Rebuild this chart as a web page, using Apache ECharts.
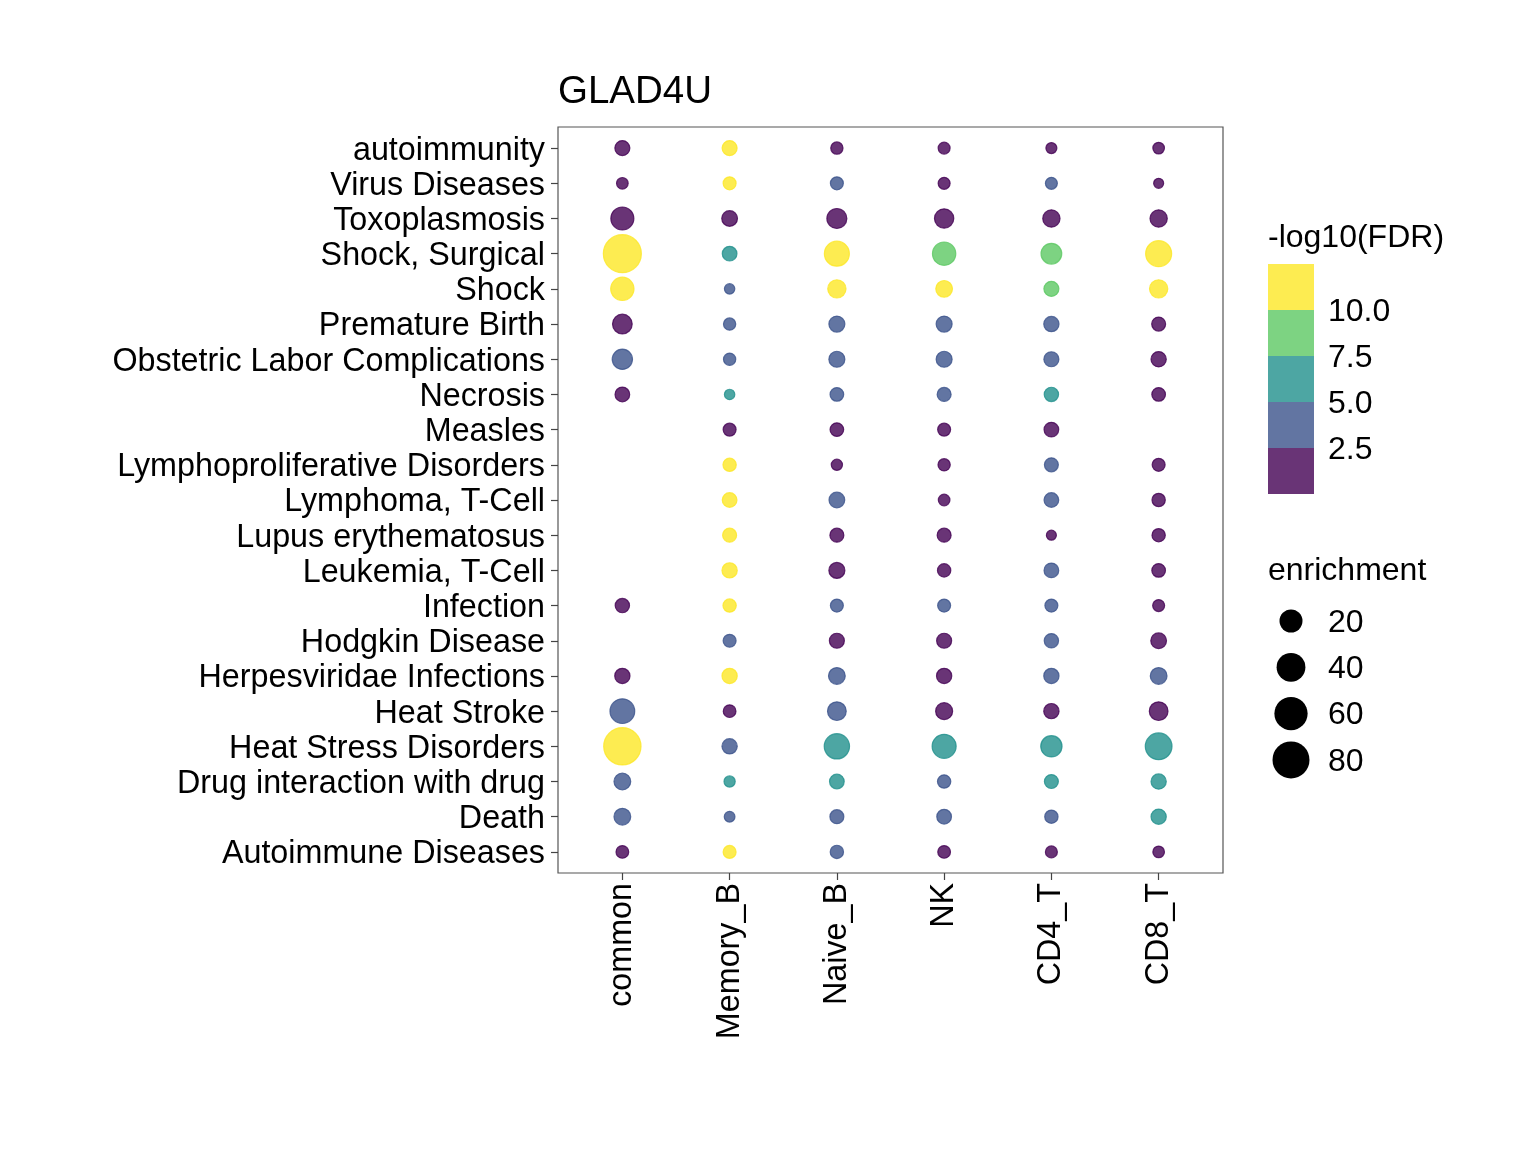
<!DOCTYPE html>
<html>
<head>
<meta charset="utf-8">
<script src="https://cdn.jsdelivr.net/npm/echarts@6/dist/echarts.min.js"></script>
<style>
  body { margin: 0; background: #fff; }
  #chart { width: 1536px; height: 1152px; }
</style>
</head>
<body>
<div id="chart"></div>
<script>
// rows listed top to bottom as they appear
const terms = [
  'autoimmunity', 'Virus Diseases', 'Toxoplasmosis', 'Shock, Surgical', 'Shock',
  'Premature Birth', 'Obstetric Labor Complications', 'Necrosis', 'Measles',
  'Lymphoproliferative Disorders', 'Lymphoma, T-Cell', 'Lupus erythematosus',
  'Leukemia, T-Cell', 'Infection', 'Hodgkin Disease', 'Herpesviridae Infections',
  'Heat Stroke', 'Heat Stress Disorders', 'Drug interaction with drug', 'Death',
  'Autoimmune Diseases'
]
const cellTypes = ['common', 'Memory_B', 'Naive_B', 'NK', 'CD4_T', 'CD8_T']

// enrichment per cell type (same order as terms), null = not present
const enrichCommon = [3.7, 0.7, 20.0, 85.8, 20.9, 11.7, 13.0, 3.3, null, null, null, null, null, 2.9, null, 4.0, 25.2, 81.7, 6.1, 6.1, 1.4]
const enrichMemoryB = [3.7, 1.6, 4.6, 3.3, 0.2, 1.1, 1.1, 0.2, 1.6, 1.9, 3.3, 2.5, 4.0, 1.9, 1.6, 4.0, 1.4, 4.0, 0.5, 0.3, 1.6]
const enrichNaiveB = [1.1, 1.6, 12.3, 26.1, 8.8, 5.0, 5.0, 2.2, 2.2, 0.5, 4.6, 2.5, 5.0, 1.6, 3.7, 6.1, 9.6, 27.1, 3.3, 2.5, 1.9]
const enrichNK = [0.9, 0.9, 10.8, 20.9, 6.1, 5.0, 5.0, 2.5, 1.6, 1.1, 0.7, 2.5, 1.9, 1.6, 3.7, 4.0, 6.5, 23.0, 1.9, 3.3, 1.4]
const enrichCD4T = [0.4, 0.9, 7.0, 14.0, 3.7, 4.0, 3.7, 2.9, 3.3, 2.5, 3.3, 0.1, 3.3, 1.6, 2.9, 4.0, 4.0, 15.4, 2.5, 1.9, 0.9]
const enrichCD8T = [0.7, 0.1, 7.0, 29.5, 8.8, 2.5, 4.0, 2.2, null, 1.6, 1.9, 1.9, 2.2, 0.9, 4.6, 6.1, 9.6, 32.0, 4.0, 4.0, 0.7]

// -log10(FDR) per cell type
const fdrCommon = [1.5, 1.5, 1.5, 12, 12, 1.5, 4, 1.5, null, null, null, null, null, 1.5, null, 1.5, 4, 12, 4, 4, 1.5]
const fdrMemoryB = [12, 12, 1.5, 6, 4, 4, 4, 6, 1.5, 12, 12, 12, 12, 12, 4, 12, 1.5, 4, 6, 4, 12]
const fdrNaiveB = [1.5, 4, 1.5, 12, 12, 4, 4, 4, 1.5, 1.5, 4, 1.5, 1.5, 4, 1.5, 4, 4, 6, 6, 4, 4]
const fdrNK = [1.5, 1.5, 1.5, 9, 12, 4, 4, 4, 1.5, 1.5, 1.5, 1.5, 1.5, 4, 1.5, 1.5, 1.5, 6, 4, 4, 1.5]
const fdrCD4T = [1.5, 4, 1.5, 9, 9, 4, 4, 6, 1.5, 4, 4, 1.5, 4, 4, 4, 4, 1.5, 6, 6, 4, 1.5]
const fdrCD8T = [1.5, 1.5, 1.5, 12, 12, 1.5, 1.5, 1.5, null, 1.5, 1.5, 1.5, 1.5, 1.5, 1.5, 4, 1.5, 6, 6, 6, 1.5]

const enrichment = [enrichCommon, enrichMemoryB, enrichNaiveB, enrichNK, enrichCD4T, enrichCD8T]
const fdr = [fdrCommon, fdrMemoryB, fdrNaiveB, fdrNK, fdrCD4T, fdrCD8T]

// legend
const fdrBreaks = [2.5, 5.0, 7.5, 10.0]
const fdrColors = ['#440154', '#3B528B', '#21908C', '#5DC863', '#FDE725']
const sizeBreaks = [20, 40, 60, 80]

const FONT = '"Liberation Sans", Arial, Helvetica, sans-serif'
const ALPHA = 0.8

function rgba(hex, a) {
  const n = parseInt(hex.slice(1), 16)
  return `rgba(${n >> 16},${(n >> 8) & 255},${n & 255},${a})`
}
function binColor(v) {
  let i = 0
  while (i < fdrBreaks.length && v >= fdrBreaks[i]) i++
  return fdrColors[i]
}
function dotSize(v) {
  return 9 + 3.13 * Math.sqrt(Math.max(v, 0))
}

const nRows = terms.length
const points = []
cellTypes.forEach((ct, ci) => {
  terms.forEach((t, ri) => {
    const e = enrichment[ci][ri]
    if (e == null) return
    const c = binColor(fdr[ci][ri])
    points.push({
      value: [ci, nRows - 1 - ri, e, fdr[ci][ri]],
      itemStyle: { color: rgba(c, ALPHA), borderColor: rgba(c, ALPHA), borderWidth: 1.2 }
    })
  })
})

// legend graphics
const legendX = 1268
const barTop = 264
const block = 46
const textShift = 2
const graphic = []
const legendText = (text, x, y) => ({
  type: 'text',
  style: { text: text, x: x, y: y + textShift, fontSize: 32, fontFamily: FONT, fill: '#000', verticalAlign: 'middle' }
})
graphic.push(legendText('-log10(FDR)', legendX, 236))
fdrColors.slice().reverse().forEach((c, i) => {
  graphic.push({
    type: 'rect',
    shape: { x: legendX, y: barTop + i * block, width: 46, height: block },
    style: { fill: rgba(c, ALPHA) }
  })
})
fdrBreaks.slice().reverse().forEach((b, i) => {
  graphic.push(legendText(b.toFixed(1), 1328, barTop + (i + 1) * block))
})
graphic.push(legendText('enrichment', legendX, 569))
sizeBreaks.forEach((s, i) => {
  const cy = 621 + i * 46.3
  graphic.push({ type: 'circle', shape: { cx: 1291, cy: cy, r: dotSize(s) / 2 }, style: { fill: '#000' } })
  graphic.push(legendText(String(s), 1328, cy))
})

const chart = echarts.init(document.getElementById('chart'), null, { renderer: 'canvas' })
chart.setOption({
  backgroundColor: '#fff',
  animation: false,
  title: {
    text: 'GLAD4U',
    left: 553,
    top: 68,
    textStyle: { fontSize: 38.5, fontWeight: 'normal', color: '#000', fontFamily: FONT }
  },
  grid: {
    left: 558, top: 127, width: 665, height: 746,
    show: true, borderColor: '#555', borderWidth: 1.2, backgroundColor: 'transparent'
  },
  xAxis: {
    type: 'value',
    min: -0.6,
    max: 5.6,
    axisLine: { show: false, onZero: false },
    splitLine: { show: false },
    axisTick: { show: true, length: 7, customValues: cellTypes.map((_, i) => i), lineStyle: { color: '#444', width: 1.2 } },
    axisLabel: {
      customValues: cellTypes.map((_, i) => i),
      rotate: 90,
      margin: 10,
      fontSize: 32.3,
      color: '#000',
      fontFamily: FONT,
      formatter: v => cellTypes[Math.round(v)]
    }
  },
  yAxis: {
    type: 'value',
    min: -0.6,
    max: nRows - 0.4,
    axisLine: { show: false, onZero: false },
    splitLine: { show: false },
    axisTick: { show: true, length: 7, customValues: terms.map((_, i) => i), lineStyle: { color: '#444', width: 1.2 } },
    axisLabel: {
      customValues: terms.map((_, i) => i),
      margin: 13,
      fontSize: 32.3,
      color: '#000',
      fontFamily: FONT,
      verticalAlign: 'top',
      lineHeight: 5,
      formatter: v => terms[nRows - 1 - Math.round(v)]
    }
  },
  series: [{
    type: 'scatter',
    data: points,
    itemStyle: { opacity: 1 },
    symbolSize: val => dotSize(val[2])
  }],
  graphic: graphic
})
</script>
</body>
</html>
